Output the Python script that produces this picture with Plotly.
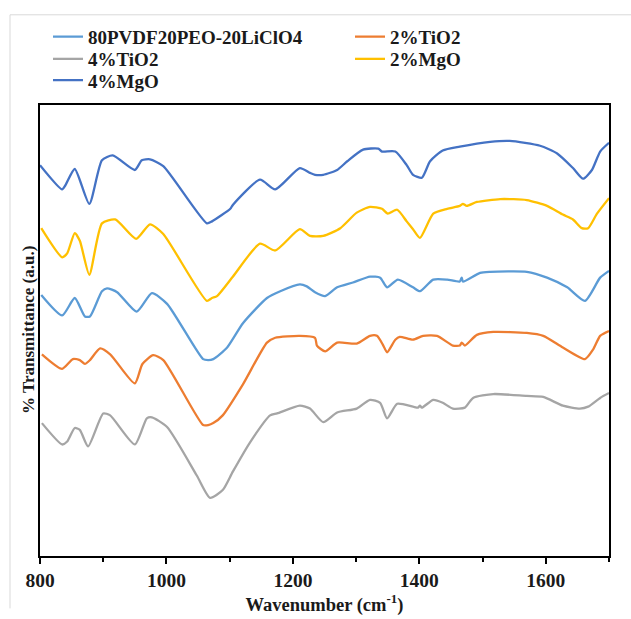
import plotly.graph_objects as go

# ---- data (wavenumber in cm^-1, transmittance in arbitrary units) ----
wn_base = [802, 835, 855, 871, 879, 898, 906, 922, 953, 977, 1001, 1058, 1066, 1074, 1096, 1121,
           1159, 1180, 1211, 1222, 1235, 1251, 1270, 1295, 1322, 1338, 1349, 1366, 1390, 1401,
           1422, 1444, 1464, 1467, 1469, 1496, 1512, 1570, 1602, 1634, 1662, 1686, 1700]
t_base = [53.8, 49.6, 53.2, 49.4, 49.4, 54.6, 55.2, 54.4, 50.4, 54.2, 52.0, 40.6, 40.4, 40.6, 43.0, 48.0,
          53.2, 54.6, 56.0, 55.6, 54.4, 53.6, 55.4, 56.4, 57.6, 57.4, 55.4, 57.0, 55.4, 54.6,
          57.0, 57.0, 56.6, 57.4, 56.6, 58.4, 58.6, 58.6, 57.4, 55.4, 52.6, 57.4, 58.8]

wn_tio2_2 = [803, 835, 852, 863, 871, 879, 895, 911, 950, 962, 979, 995, 1058, 1066, 1074, 1089, 1121,
             1159, 1172, 1211, 1235, 1238, 1251, 1270, 1301, 1322, 1333, 1343, 1349, 1362, 1369, 1390,
             1406, 1428, 1453, 1464, 1467, 1472, 1491, 1517, 1570, 1596, 1627, 1662, 1675, 1686, 1700]
t_tio2_2 = [41.6, 38.6, 40.6, 40.4, 39.6, 40.4, 42.8, 41.6, 35.6, 39.6, 41.4, 40.4, 27.0, 27.0, 27.4, 29.0, 35.4,
            44.0, 45.0, 45.4, 45.0, 43.4, 42.2, 44.0, 43.8, 45.4, 45.4, 43.4, 42.0, 44.6, 45.2, 44.6,
            45.4, 45.4, 43.4, 43.4, 44.0, 43.4, 45.6, 46.2, 46.0, 45.4, 43.0, 40.6, 42.6, 45.4, 46.4]

wn_tio2_4 = [803, 835, 843, 855, 863, 876, 900, 911, 950, 969, 977, 1001, 1048, 1069, 1089, 1105, 1132,
             1164, 1175, 1211, 1227, 1248, 1270, 1301, 1322, 1338, 1349, 1365, 1390, 1398, 1401, 1404,
             1422, 1437, 1453, 1472, 1485, 1517, 1570, 1596, 1627, 1654, 1667, 1686, 1700]
t_tio2_4 = [27.4, 23.0, 23.6, 26.4, 26.0, 22.6, 29.4, 29.0, 23.0, 28.4, 28.6, 26.6, 16.6, 12.0, 13.6, 17.4, 23.4,
            29.0, 29.4, 31.0, 30.4, 27.6, 29.6, 30.4, 32.2, 31.6, 28.4, 31.4, 30.8, 30.6, 31.0, 30.6,
            32.2, 31.6, 30.4, 30.6, 32.6, 33.4, 33.0, 32.8, 31.0, 30.4, 30.8, 32.6, 33.6]

wn_mgo_2 = [802, 835, 843, 855, 863, 878, 898, 919, 952, 974, 995, 1064, 1072, 1080, 1105, 1148,
            1172, 1211, 1227, 1248, 1275, 1301, 1322, 1341, 1350, 1365, 1380, 1390, 1401, 1422, 1444,
            1464, 1469, 1475, 1491, 1528, 1570, 1602, 1627, 1643, 1657, 1667, 1681, 1700]
t_mgo_2 = [67.6, 61.6, 62.4, 66.6, 65.0, 58.0, 68.6, 69.4, 65.4, 68.4, 66.4, 52.6, 53.2, 53.6, 57.6, 64.4,
           63.0, 67.4, 66.0, 66.0, 67.6, 70.8, 72.0, 71.6, 70.6, 71.4, 69.0, 67.4, 65.6, 70.6, 71.6,
           72.2, 72.6, 72.2, 73.0, 73.6, 73.4, 72.2, 70.4, 69.4, 67.6, 67.6, 70.6, 73.8]

wn_mgo_4 = [800, 835, 840, 855, 878, 898, 915, 950, 961, 974, 995, 1064, 1072, 1101, 1105, 1148,
            1172, 1211, 1227, 1235, 1248, 1270, 1286, 1311, 1335, 1341, 1362, 1380, 1390, 1404, 1417,
            1437, 1464, 1512, 1543, 1591, 1618, 1643, 1659, 1673, 1686, 1700]
t_mgo_4 = [80.6, 75.6, 76.4, 79.8, 72.6, 81.6, 82.6, 79.6, 81.6, 81.8, 80.4, 68.6, 69.0, 71.6, 72.4, 77.6,
           75.6, 80.0, 79.0, 78.6, 78.6, 79.6, 81.4, 83.8, 84.0, 83.4, 83.4, 80.6, 78.6, 78.0, 81.4,
           83.6, 84.4, 85.4, 85.6, 84.6, 83.0, 80.0, 77.8, 79.6, 83.4, 85.2]

names = ["80PVDF20PEO-20LiClO4", "2%TiO2", "4%TiO2", "2%MgO", "4%MgO"]
colors = ["#5B9BD5", "#ED7D31", "#A5A5A5", "#FFC000", "#4472C4"]
xs = [wn_base, wn_tio2_2, wn_tio2_4, wn_mgo_2, wn_mgo_4]
ys = [t_base, t_tio2_2, t_tio2_4, t_mgo_2, t_mgo_4]

x_ticks = [800, 1000, 1200, 1400, 1600]

serif = "Liberation Serif, Times New Roman, serif"
ink = "#1a1a1a"
W, H = 631, 619
L, R, T, B = 40, 22, 105, 49
pw, ph = W - L - R, H - T - B

def px_x(p):
    return (p - L) / pw

def px_y(p):
    return (H - B - p) / ph

# legend slots: (left px, top px) for each series, two columns like the original
legend_slots = [(48, 15), (350, 15), (48, 38), (350, 38), (48, 60)]
legend_ids = ["legend", "legend2", "legend3", "legend4", "legend5"]

fig = go.Figure()
for n, c, x, y, lid in zip(names, colors, xs, ys, legend_ids):
    fig.add_trace(go.Scatter(x=x, y=y, name=n, mode="lines", legend=lid,
                             line=dict(color=c, width=2.3, shape="spline", smoothing=0.6)))

legend_font = dict(family=serif, size=19, color=ink, weight="bold")
layout_legends = {}
for lid, (lx, ly) in zip(legend_ids, legend_slots):
    layout_legends[lid] = dict(x=px_x(lx), xanchor="left", y=px_y(ly), yanchor="top",
                               bgcolor="rgba(0,0,0,0)", font=legend_font, itemwidth=30)

fig.update_layout(
    width=W, height=H,
    margin=dict(l=L, r=R, t=T, b=B),
    paper_bgcolor="white", plot_bgcolor="white",
    font=dict(family=serif, size=18, color=ink),
    showlegend=True,
    xaxis=dict(range=[800, 1700], tickvals=x_ticks, ticktext=[str(v) for v in x_ticks],
               showline=True, linecolor="black", linewidth=2, mirror=True,
               ticks="outside", ticklen=6, tickwidth=1.5, tickcolor="black",
               minor=dict(dtick=100, tick0=800, ticks="outside", ticklen=4, tickwidth=1.5, tickcolor="black"),
               showgrid=False, zeroline=False,
               tickfont=dict(family=serif, size=19.5, color=ink, weight="bold"),
               title=dict(text="Wavenumber (cm<sup>-1</sup>)", standoff=3,
                          font=dict(family=serif, size=18.5, color=ink, weight="bold"))),
    yaxis=dict(range=[0, 93], showticklabels=False, ticks="",
               showline=True, linecolor="black", linewidth=2, mirror=True,
               showgrid=False, zeroline=False),
    **layout_legends,
)

# y-axis title
fig.add_annotation(text="% Transmittance (a.u.)", textangle=-90, showarrow=False,
                   xref="paper", yref="paper", x=px_x(28), y=px_y(337),
                   xanchor="center", yanchor="middle",
                   font=dict(family=serif, size=17, color=ink, weight="bold"))

# light outer chart-area border (left and top edges)
fig.add_shape(type="line", xref="paper", yref="paper",
              x0=px_x(10), x1=px_x(10), y0=px_y(12), y1=px_y(H + 5),
              line=dict(color="#D9D9D9", width=1))
fig.add_shape(type="line", xref="paper", yref="paper",
              x0=px_x(10), x1=px_x(W + 5), y0=px_y(12), y1=px_y(12),
              line=dict(color="#D9D9D9", width=1))

fig.write_html("out.html")
